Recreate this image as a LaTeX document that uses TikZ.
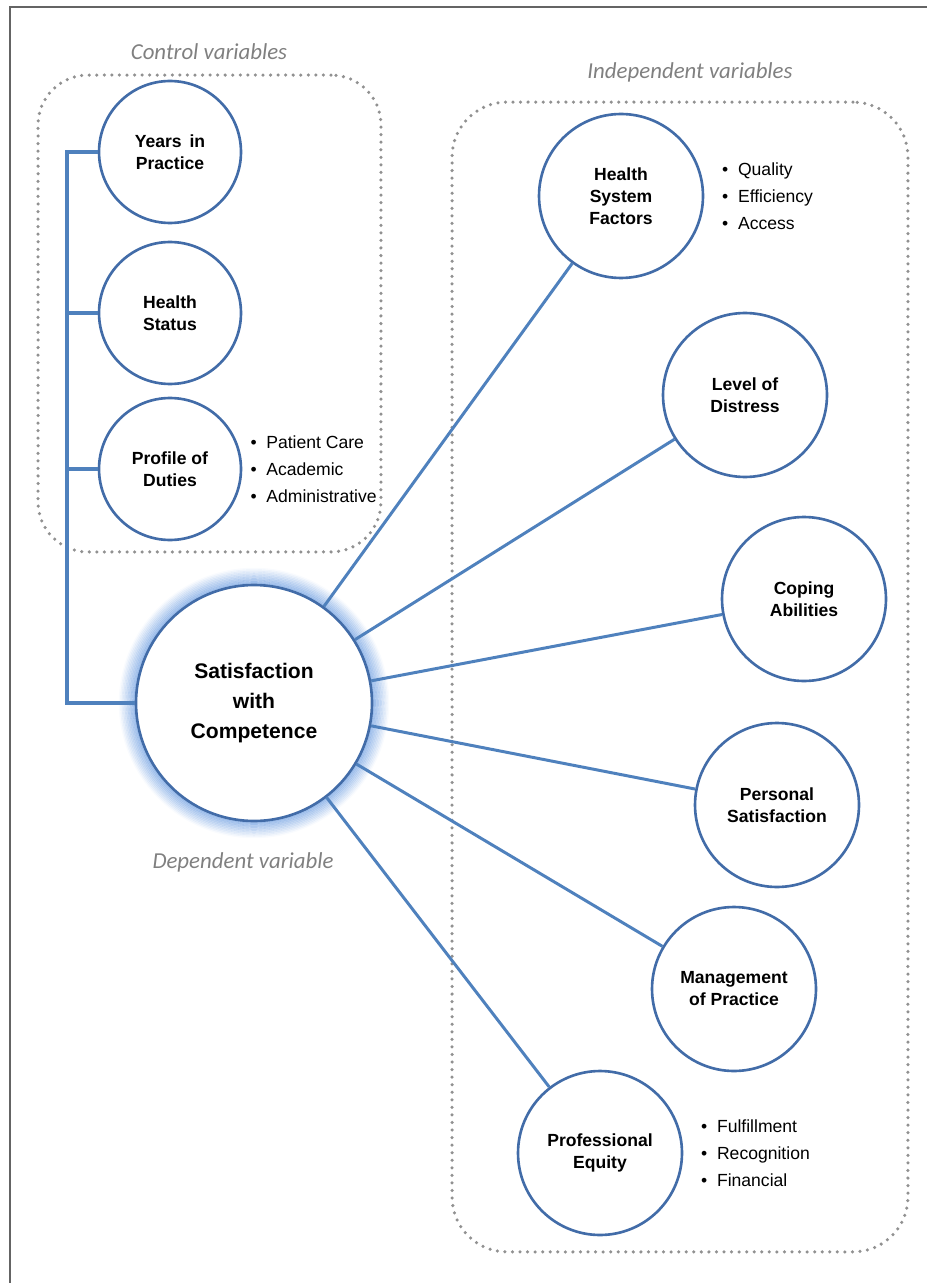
\documentclass[tikz,border=0pt]{standalone}
\usepackage{fontspec}
\setmainfont{Liberation Sans}
\newfontfamily\labfont{Carlito}
\usetikzlibrary{positioning}
\definecolor{ringblue}{RGB}{66,108,168}
\definecolor{linkblue}{RGB}{79,129,189}
\definecolor{glowblue}{RGB}{110,158,225}
\definecolor{dotgray}{RGB}{145,145,145}
\definecolor{labgray}{RGB}{128,128,128}
\definecolor{framegray}{RGB}{100,100,100}
\newcommand{\bul}{\textbullet\hspace{.55em}}

\begin{document}
\begin{tikzpicture}[x=0.02cm,y=-0.02cm,
		varcirc/.style={circle,draw=ringblue,line width=1.5pt,fill=white,minimum size=3.28cm,inner sep=0pt,align=center,font=\bfseries\fontsize{10}{12.5}\selectfont},
		ctrlcirc/.style={varcirc,minimum size=2.84cm},
		maincirc/.style={varcirc,minimum size=4.72cm,font=\bfseries\fontsize{12}{17}\selectfont},
		link/.style={draw=linkblue,line width=1.7pt},
		spine/.style={draw=linkblue,line width=2pt},
		groupbox/.style={draw=dotgray,line width=2pt,dash pattern=on 0pt off 4.3pt,line cap=round,rounded corners=1cm,inner sep=0pt},
		grouplabel/.style={font=\labfont\itshape\fontsize{13}{15}\selectfont,text=labgray},
		items/.style={align=left,inner sep=0pt,font=\fontsize{10}{15.5}\selectfont}]
		\useasboundingbox (0,0) rectangle (927,1283);
		\draw[framegray,line width=1.2pt] (10,1283) -- (10,7) -- (927,7);
		
		% groups
		\node[groupbox,minimum width=6.86cm,minimum height=9.54cm] (ctrlbox) at (209.5,313.5) {};
		\node[groupbox,minimum width=9.12cm,minimum height=23cm,rounded corners=1.1cm] (indbox) at (680,677) {};
		\node[grouplabel] (ctrllab) at (209,52) {Control variables};
		\node[grouplabel] (indlab) at (690,72) {Independent variables};
		\node[grouplabel] (deplab) at (243,862) {Dependent variable};
		
		% glow round the dependent variable
		\coordinate (satc) at (254,703);
		\foreach \i in {1,...,11}
		\draw[glowblue,line width=0.95pt,opacity=0.7-\i*0.06] (satc) circle (2.36cm+\i*0.85pt);
		
		\node[maincirc] (sat) at (satc) {Satisfaction\\with\\Competence};
		
		\node[ctrlcirc] (years)  at (170,152) {Years\, in\\Practice};
		\node[ctrlcirc] (health) at (170,313) {Health\\Status};
		\node[ctrlcirc] (duties) at (170,469) {Profile of\\Duties};
		
		\node[varcirc] (hsf)      at (621,196)  {Health\\System\\Factors};
		\node[varcirc] (distress) at (745,395)  {Level of\\Distress};
		\node[varcirc] (coping)   at (804,599)  {Coping\\Abilities};
		\node[varcirc] (personal) at (777,805)  {Personal\\Satisfaction};
		\node[varcirc] (mgmt)     at (734,989)  {Management\\of Practice};
		\node[varcirc] (equity)   at (600,1153) {Professional\\Equity};
		
		\node[items,right=4.5pt of duties] (dutylist) {\bul Patient Care\\\bul Academic\\\bul Administrative};
		\node[items,right=10pt of hsf] (hsflist) {\bul Quality\\\bul Efficiency\\\bul Access};
		\node[items,right=10pt of equity] (equitylist) {\bul Fulfillment\\\bul Recognition\\\bul Financial};
		
		% control variables bracket
		\coordinate (spinebot) at (67,703);
		\draw[spine] (years.west) -| (spinebot) -- (sat.west);
		\foreach \n in {health,duties}
		\draw[spine] (\n.west) -- (\n.west -| spinebot);
		
		% independent variables
		\foreach \n in {hsf,distress,coping,personal,mgmt,equity}
		\draw[link] (sat) -- (\n);
\end{tikzpicture}
\end{document}
